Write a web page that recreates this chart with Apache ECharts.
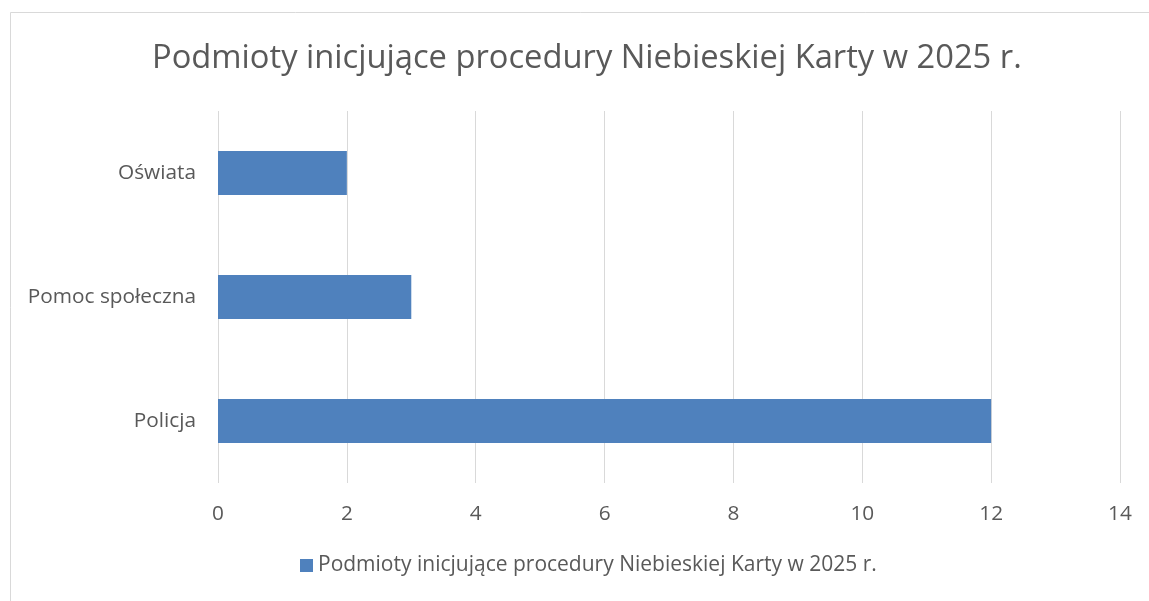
<!DOCTYPE html>
<html><head><meta charset="utf-8">
<script src="https://cdn.jsdelivr.net/npm/echarts@6/dist/echarts.min.js"></script>
<style>html,body{margin:0;padding:0;background:#fff}#c{width:1149px;height:601px}</style>
</head><body><div id="c"></div>
<script>
const title = 'Podmioty inicjujące procedury Niebieskiej Karty w 2025 r.';
const categories = ['Policja', 'Pomoc społeczna', 'Oświata'];
const values = [12, 3, 2];
const seriesName = 'Podmioty inicjujące procedury Niebieskiej Karty w 2025 r.';
const FONT = 'Open Sans';
const chart = echarts.init(document.getElementById('c'));
chart.setOption({
  animation: false,
  backgroundColor: '#fff',
  graphic: [{type:'rect', shape:{x:10.5,y:12.5,width:1400,height:800}, style:{fill:'none', stroke:'#d9d9d9', lineWidth:1}, silent:true}],
  title: {text: title, left: 147, top: 37, textStyle:{fontFamily:FONT, fontSize:32.7, fontWeight:'normal', color:'#595959'}},
  legend: {bottom: 20, left: 295, itemWidth: 13, itemHeight: 13, itemGap: 5,
    textStyle:{fontFamily:FONT, fontSize:21, color:'#595959'}, icon:'rect', data:[seriesName]},
  grid: {left: 218, right: 29, top: 111, bottom: 118, containLabel:false},
  xAxis: {type:'value', min:0, max:14, interval:2,
    axisLine:{show:false}, axisTick:{show:false},
    splitLine:{lineStyle:{color:'#d9d9d9', width:1}},
    axisLabel:{fontFamily:FONT, fontSize:20.8, color:'#595959', margin:21}},
  yAxis: {type:'category', data: categories,
    axisLine:{show:false}, axisTick:{show:false},
    axisLabel:{fontFamily:FONT, fontSize:20.8, color:'#595959', margin:22}},
  series: [{name: seriesName, type:'bar', data: values, barWidth: 44, itemStyle:{color:'#4f81bd'}}]
});
</script></body></html>
